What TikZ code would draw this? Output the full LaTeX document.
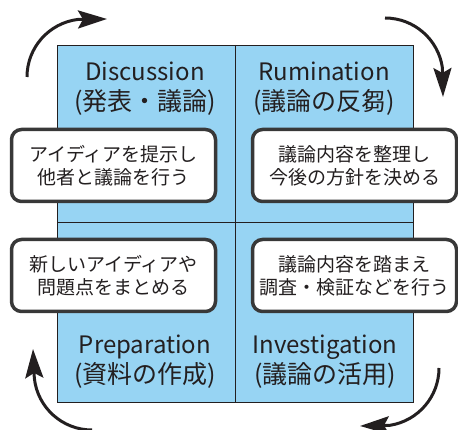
\documentclass[tikz,border=0pt]{standalone}
\usepackage{fontspec}
\setmainfont{Noto Sans CJK JP}
\usetikzlibrary{arrows.meta}
\definecolor{sq}{HTML}{97D4F3}
\definecolor{ink}{HTML}{231F20}
\definecolor{frame}{HTML}{383838}
\newcommand{\jtitle}[1]{{\fontsize{25}{30}\selectfont #1}}
\begin{document}
\begin{tikzpicture}[x=1pt,y=1pt,
  title/.style={text=ink, font=\fontsize{24}{30}\selectfont, align=center, inner sep=0pt},
  note/.style={draw=frame, line width=3.5pt, fill=white, rounded corners=10pt,
    minimum width=204pt, minimum height=72pt, align=center, text=ink,
    font=\fontsize{19}{23}\selectfont, inner sep=0pt},
  divider/.style={draw=ink, line width=0.9pt},
  cyc/.style={draw=ink, line width=3pt, -{Stealth[length=29pt,width=18pt,inset=5pt]}}
]
\useasboundingbox (0,0) rectangle (458,430);
% quadrant square
\node[fill=sq, draw=ink, line width=0.8pt, minimum width=356pt, minimum height=357pt, inner sep=0pt] (sq) at (235,206.5) {};
\coordinate (vt) at (235.5,385);
\coordinate (vb) at (235.5,28);
\coordinate (hl) at (57,208);
\coordinate (hr) at (413,208);
\draw[divider] (vt) -- (vb);
\draw[divider] (hl) -- (hr);
% titles
\node[title] (t1) at (145,341) {Discussion\\\jtitle{(発表・議論)}};
\node[title] (t2) at (324,341) {Rumination\\\jtitle{(議論の反芻)}};
\node[title] (t3) at (145,68) {Preparation\\\jtitle{(資料の作成)}};
\node[title] (t4) at (325,68) {Investigation\\\jtitle{(議論の活用)}};
% notes
\node[note] (n1) at (113.5,264.5) {アイディアを提示し\\他者と議論を行う};
\node[note] (n2) at (354.5,264.5) {議論内容を整理し\\今後の方針を決める};
\node[note] (n3) at (113.5,154.5) {新しいアイディアや\\問題点をまとめる};
\node[note] (n4) at (354.5,154.5) {議論内容を踏まえ\\調査・検証などを行う};
% cycle arrows
\draw[cyc] (27,353) arc[start angle=180,end angle=97,radius=58] -- (107,411);
\draw[cyc] (385,412) arc[start angle=90,end angle=8,radius=58] -- (443,333);
\draw[cyc] (439,62) arc[start angle=0,end angle=-81,radius=58] -- (360,4);
\draw[cyc] (92,0) arc[start angle=270,end angle=186,radius=58] -- (33,81);
\end{tikzpicture}
\end{document}
